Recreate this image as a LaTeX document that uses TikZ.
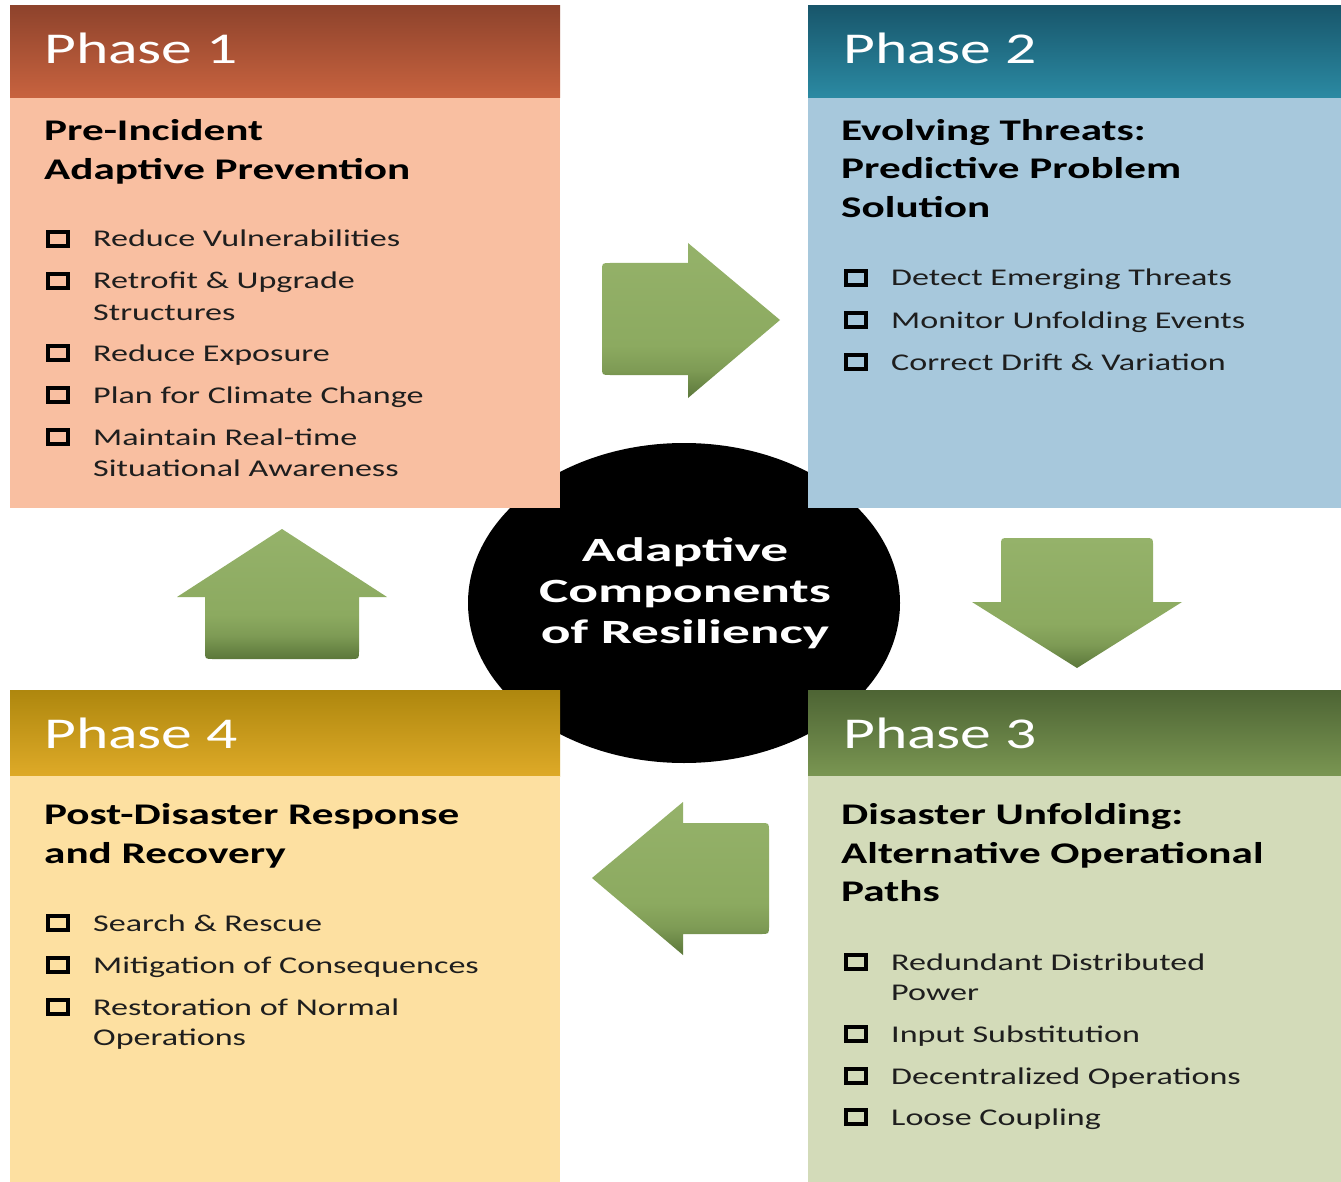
\documentclass[tikz,border=0pt]{standalone}
\usepackage{fontspec}
\setmainfont{Carlito}[FakeStretch=1.42]
\newfontfamily\ttlfont{Carlito}[FakeStretch=1.44]
\newfontfamily\ctrfont{Carlito}[FakeStretch=1.63]
\newfontfamily\hdrfont{Carlito}[FakeStretch=1.4]
\usetikzlibrary{shapes.geometric}
\definecolor{pOa}{HTML}{8E432C}\definecolor{pOb}{HTML}{C8633F}\definecolor{pObody}{HTML}{F9BFA1}
\definecolor{pTa}{HTML}{18566B}\definecolor{pTb}{HTML}{2B8AA3}\definecolor{pTbody}{HTML}{A7C8DC}
\definecolor{pRa}{HTML}{4D6434}\definecolor{pRb}{HTML}{7A9652}\definecolor{pRbody}{HTML}{D3DBB9}
\definecolor{pFa}{HTML}{AE870E}\definecolor{pFb}{HTML}{DEAA28}\definecolor{pFbody}{HTML}{FDE0A1}
\definecolor{aT}{HTML}{95B26A}\definecolor{aM}{HTML}{8CAA60}\definecolor{aC}{HTML}{7E9B55}\definecolor{aB}{HTML}{5B773A}
\definecolor{bodytxt}{HTML}{1E1E1E}
\pgfdeclareverticalshading{arrsh}{100bp}{color(0bp)=(aB); color(25bp)=(aB); color(34bp)=(aC); color(42bp)=(aM); color(75bp)=(aT); color(100bp)=(aT)}
\newcommand\itm[4]{%
  \node[bul] (#1b) at (#2, #3-8) {};
  \node[itxt] (#1) at (#2+35, #3) {#4};}
\begin{document}
\begin{tikzpicture}[x=1pt,y=-1pt,
  bul/.style={draw=black, line width=3.6pt, minimum width=20pt, minimum height=13.5pt, inner sep=0pt, fill=none},
  itxt/.style={anchor=base west, inner sep=0pt, text=bodytxt, font=\fontsize{24}{29}\selectfont},
  ttl/.style={anchor=base west, inner sep=0pt, text=black, font=\ttlfont\fontsize{30}{36}\selectfont\bfseries},
  hdr/.style={anchor=base west, inner sep=0pt, text=white, font=\hdrfont\fontsize{44}{50}\selectfont},
  ctrtxt/.style={anchor=base, inner sep=0pt, text=white, font=\ctrfont\fontsize{34}{40}\selectfont\bfseries},
  garrow/.style={shading=arrsh}
]
\useasboundingbox (0,0) rectangle (1341,1182);
\fill[white] (0,0) rectangle (1341,1182);
% centre ellipse (behind boxes)
\node[ellipse, fill=black, minimum width=432pt, minimum height=320pt, inner sep=0pt] (ctr) at (684,603) {};
% Phase boxes
\fill[top color=pOa, bottom color=pOb] (10,6) rectangle (560,98);
\fill[pObody] (10,98) rectangle (560,508);
\fill[top color=pTa, bottom color=pTb] (808,6) rectangle (1341,98);
\fill[pTbody] (808,98) rectangle (1341,508);
\fill[top color=pRa, bottom color=pRb] (808,690) rectangle (1341,776);
\fill[pRbody] (808,776) rectangle (1341,1182);
\fill[top color=pFa, bottom color=pFb] (10,690) rectangle (560,776);
\fill[pFbody] (10,776) rectangle (560,1182);
% arrows
\path[garrow] (688,243) -- (780,320) -- (688,398) -- (688,375) -- (610,375) .. controls (602,375) .. (602,367) -- (602,271) .. controls (602,263) .. (610,263) -- (688,263) -- cycle;
\path[garrow] (1001,602) -- (1001,546) .. controls (1001,538) .. (1009,538) -- (1145,538) .. controls (1153,538) .. (1153,546) -- (1153,602) -- (1182,602) -- (1077,668) -- (972,602) -- cycle;
\path[garrow] (683,823) -- (761,823) .. controls (769,823) .. (769,831) -- (769,926) .. controls (769,934) .. (761,934) -- (683,934) -- (683,955) -- (592,878) -- (683,802) -- cycle;
\path[garrow] (205,597) -- (205,651) .. controls (205,659) .. (213,659) -- (351,659) .. controls (359,659) .. (359,651) -- (359,597) -- (387,597) -- (282,529) -- (177,597) -- cycle;
% centre text
\node[ctrtxt] (c1) at (685,561) {Adaptive};
\node[ctrtxt] (c2) at (685,602) {Components};
\node[ctrtxt] (c3) at (685,643) {of Resiliency};
% Phase 1
\node[hdr] (h1) at (44,64) {Phase 1};
\node[ttl] (t1a) at (44,141) {Pre-Incident};
\node[ttl] (t1b) at (44,180) {Adaptive Prevention};
\itm{a1}{58}{247}{Reduce Vulnerabilities}
\itm{a2}{58}{289}{Retrofit \& Upgrade}
\node[itxt] (a2x) at (93,320) {Structures};
\itm{a3}{58}{361}{Reduce Exposure}
\itm{a4}{58}{403}{Plan for Climate Change}
\itm{a5}{58}{445}{Maintain Real-time}
\node[itxt] (a5x) at (93,476) {Situational Awareness};
% Phase 2
\node[hdr] (h2) at (843,64) {Phase 2};
\node[ttl] (t2a) at (841,141) {Evolving Threats:};
\node[ttl] (t2b) at (841,179) {Predictive Problem};
\node[ttl] (t2c) at (841,218) {Solution};
\itm{b1}{856}{286}{Detect Emerging Threats}
\itm{b2}{856}{328}{Monitor Unfolding Events}
\itm{b3}{856}{370}{Correct Drift \& Variation}
% Phase 3
\node[hdr] (h3) at (843,748) {Phase 3};
\node[ttl] (t3a) at (841,824) {Disaster Unfolding:};
\node[ttl] (t3b) at (841,863) {Alternative Operational};
\node[ttl] (t3c) at (841,901) {Paths};
\itm{d1}{856}{970}{Redundant Distributed}
\node[itxt] (d1x) at (891,1000) {Power};
\itm{d2}{856}{1042}{Input Substitution}
\itm{d3}{856}{1084}{Decentralized Operations}
\itm{d4}{856}{1125}{Loose Coupling}
% Phase 4
\node[hdr] (h4) at (44,748) {Phase 4};
\node[ttl] (t4a) at (44,824) {Post-Disaster Response};
\node[ttl] (t4b) at (44,863) {and Recovery};
\itm{e1}{58}{931}{Search \& Rescue}
\itm{e2}{58}{973}{Mitigation of Consequences}
\itm{e3}{58}{1015}{Restoration of Normal}
\node[itxt] (e3x) at (93,1045) {Operations};
\end{tikzpicture}
\end{document}
